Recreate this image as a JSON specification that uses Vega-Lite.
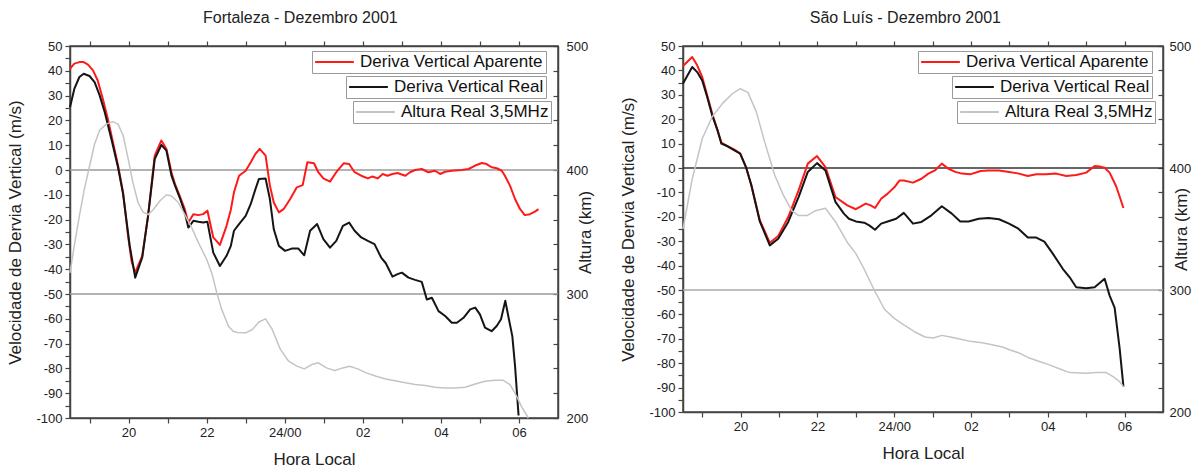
{
  "$schema": "https://vega.github.io/schema/vega-lite/v6.json",
  "padding": {"left": 6, "top": 9, "right": 0, "bottom": 0},
  "background": "white",
  "datasets": {
    "refs": [{"vel": 0}, {"vel": -50}],
    "fortAparente": [
      {"hora": 18.5, "vel": 40.8}, {"hora": 18.61, "vel": 42.9}, {"hora": 18.74, "vel": 43.5}, {"hora": 18.85, "vel": 43.5},
      {"hora": 18.96, "vel": 42.5}, {"hora": 19.09, "vel": 40.2}, {"hora": 19.21, "vel": 36.1}, {"hora": 19.34, "vel": 28.7},
      {"hora": 19.47, "vel": 20.6}, {"hora": 19.6, "vel": 11.2}, {"hora": 19.73, "vel": 1.8}, {"hora": 19.86, "vel": -9},
      {"hora": 19.99, "vel": -27}, {"hora": 20.08, "vel": -37}, {"hora": 20.17, "vel": -41.4}, {"hora": 20.35, "vel": -34.6},
      {"hora": 20.5, "vel": -18.5}, {"hora": 20.67, "vel": 5.8}, {"hora": 20.84, "vel": 11.9}, {"hora": 20.97, "vel": 8.5},
      {"hora": 21.1, "vel": -1}, {"hora": 21.19, "vel": -5.7}, {"hora": 21.31, "vel": -10.4}, {"hora": 21.44, "vel": -15.8},
      {"hora": 21.53, "vel": -21.2}, {"hora": 21.66, "vel": -17.8}, {"hora": 21.79, "vel": -18.2}, {"hora": 21.91, "vel": -17.8},
      {"hora": 22.02, "vel": -16.4}, {"hora": 22.17, "vel": -27.2}, {"hora": 22.34, "vel": -30.2}, {"hora": 22.51, "vel": -22.5},
      {"hora": 22.62, "vel": -16}, {"hora": 22.7, "vel": -9}, {"hora": 22.83, "vel": -2.3}, {"hora": 23.0, "vel": -0.3},
      {"hora": 23.13, "vel": 3.1}, {"hora": 23.25, "vel": 6.5}, {"hora": 23.36, "vel": 8.5}, {"hora": 23.51, "vel": 5.8},
      {"hora": 23.62, "vel": -6.3}, {"hora": 23.72, "vel": -13.1}, {"hora": 23.85, "vel": -17.1}, {"hora": 23.97, "vel": -15.8},
      {"hora": 24.14, "vel": -11.7}, {"hora": 24.31, "vel": -7}, {"hora": 24.46, "vel": -6.1}, {"hora": 24.58, "vel": 3.1},
      {"hora": 24.75, "vel": 2.7}, {"hora": 24.86, "vel": -0.9}, {"hora": 24.99, "vel": -3.4}, {"hora": 25.16, "vel": -4.7},
      {"hora": 25.32, "vel": -0.9}, {"hora": 25.51, "vel": 2.7}, {"hora": 25.65, "vel": 2.4}, {"hora": 25.79, "vel": -0.9},
      {"hora": 25.96, "vel": -2.3}, {"hora": 26.13, "vel": -3.4}, {"hora": 26.25, "vel": -2.6}, {"hora": 26.38, "vel": -3.4},
      {"hora": 26.51, "vel": -1.6}, {"hora": 26.63, "vel": -2.3}, {"hora": 26.76, "vel": -1.6}, {"hora": 26.89, "vel": -1.2},
      {"hora": 26.96, "vel": -1.6}, {"hora": 27.09, "vel": -2.3}, {"hora": 27.21, "vel": -0.9}, {"hora": 27.34, "vel": 0},
      {"hora": 27.51, "vel": 0.4}, {"hora": 27.68, "vel": -0.9}, {"hora": 27.85, "vel": -0.3}, {"hora": 27.98, "vel": -1.6},
      {"hora": 28.11, "vel": -0.7}, {"hora": 28.28, "vel": -0.3}, {"hora": 28.53, "vel": 0}, {"hora": 28.71, "vel": 0.4},
      {"hora": 28.88, "vel": 1.8}, {"hora": 29.05, "vel": 2.8}, {"hora": 29.17, "vel": 2.4}, {"hora": 29.3, "vel": 1.1},
      {"hora": 29.43, "vel": 0.7}, {"hora": 29.56, "vel": -0.3}, {"hora": 29.64, "vel": -2.3}, {"hora": 29.77, "vel": -6.3},
      {"hora": 29.9, "vel": -11.7}, {"hora": 30.03, "vel": -15.8}, {"hora": 30.15, "vel": -18.2}, {"hora": 30.28, "vel": -17.8},
      {"hora": 30.41, "vel": -16.8}, {"hora": 30.5, "vel": -15.8}
    ],
    "fortReal": [
      {"hora": 18.5, "vel": 25.3}, {"hora": 18.61, "vel": 32.7}, {"hora": 18.74, "vel": 37.5}, {"hora": 18.85, "vel": 38.8},
      {"hora": 19.0, "vel": 37.9}, {"hora": 19.13, "vel": 35.4}, {"hora": 19.26, "vel": 30.1}, {"hora": 19.39, "vel": 23.3},
      {"hora": 19.56, "vel": 12.5}, {"hora": 19.73, "vel": 1.1}, {"hora": 19.86, "vel": -9.7}, {"hora": 20.03, "vel": -30.6},
      {"hora": 20.17, "vel": -43.4}, {"hora": 20.35, "vel": -35.3}, {"hora": 20.5, "vel": -18.5}, {"hora": 20.67, "vel": 4.4},
      {"hora": 20.84, "vel": 10.1}, {"hora": 20.97, "vel": 7.8}, {"hora": 21.1, "vel": -2.3}, {"hora": 21.19, "vel": -6.3},
      {"hora": 21.31, "vel": -11.1}, {"hora": 21.44, "vel": -17.1}, {"hora": 21.53, "vel": -23.2}, {"hora": 21.66, "vel": -20.5},
      {"hora": 21.79, "vel": -20.9}, {"hora": 21.91, "vel": -21.2}, {"hora": 22.02, "vel": -20.9}, {"hora": 22.17, "vel": -33.3},
      {"hora": 22.34, "vel": -38.7}, {"hora": 22.51, "vel": -34.6}, {"hora": 22.62, "vel": -30.6}, {"hora": 22.7, "vel": -24.5},
      {"hora": 22.83, "vel": -21.8}, {"hora": 23.0, "vel": -18.5}, {"hora": 23.13, "vel": -13.7}, {"hora": 23.25, "vel": -7.7},
      {"hora": 23.34, "vel": -3.6}, {"hora": 23.51, "vel": -3.4}, {"hora": 23.62, "vel": -11.7}, {"hora": 23.72, "vel": -23.9},
      {"hora": 23.85, "vel": -30.6}, {"hora": 24.01, "vel": -32.6}, {"hora": 24.18, "vel": -31.7}, {"hora": 24.35, "vel": -31.7},
      {"hora": 24.5, "vel": -34.4}, {"hora": 24.65, "vel": -24.5}, {"hora": 24.83, "vel": -21.8}, {"hora": 24.99, "vel": -27.9},
      {"hora": 25.16, "vel": -31.3}, {"hora": 25.32, "vel": -28.6}, {"hora": 25.49, "vel": -22.5}, {"hora": 25.65, "vel": -21.2},
      {"hora": 25.79, "vel": -24.5}, {"hora": 25.96, "vel": -27.2}, {"hora": 26.13, "vel": -28.6}, {"hora": 26.3, "vel": -29.9},
      {"hora": 26.47, "vel": -35.3}, {"hora": 26.59, "vel": -37.6}, {"hora": 26.76, "vel": -43}, {"hora": 26.89, "vel": -42},
      {"hora": 27.0, "vel": -41.4}, {"hora": 27.17, "vel": -43.4}, {"hora": 27.34, "vel": -44.3}, {"hora": 27.51, "vel": -45.1},
      {"hora": 27.64, "vel": -52.2}, {"hora": 27.77, "vel": -51.5}, {"hora": 27.94, "vel": -56.9}, {"hora": 28.11, "vel": -58.9},
      {"hora": 28.28, "vel": -61.6}, {"hora": 28.41, "vel": -61.6}, {"hora": 28.58, "vel": -59.6}, {"hora": 28.75, "vel": -56.2},
      {"hora": 28.88, "vel": -55.5}, {"hora": 29.0, "vel": -58.2}, {"hora": 29.13, "vel": -63.6}, {"hora": 29.3, "vel": -65},
      {"hora": 29.43, "vel": -62.9}, {"hora": 29.54, "vel": -60.2}, {"hora": 29.65, "vel": -52.7}, {"hora": 29.74, "vel": -60},
      {"hora": 29.83, "vel": -67}, {"hora": 29.9, "vel": -79.1}, {"hora": 29.99, "vel": -99}
    ],
    "fortAltura": [
      {"hora": 18.5, "alt": 317}, {"hora": 18.61, "alt": 339}, {"hora": 18.74, "alt": 363}, {"hora": 18.87, "alt": 385},
      {"hora": 19.0, "alt": 403}, {"hora": 19.13, "alt": 421}, {"hora": 19.26, "alt": 432}, {"hora": 19.43, "alt": 437},
      {"hora": 19.6, "alt": 439}, {"hora": 19.73, "alt": 437}, {"hora": 19.86, "alt": 428}, {"hora": 19.99, "alt": 409},
      {"hora": 20.11, "alt": 390}, {"hora": 20.24, "alt": 374}, {"hora": 20.37, "alt": 366}, {"hora": 20.5, "alt": 364},
      {"hora": 20.63, "alt": 368}, {"hora": 20.8, "alt": 375}, {"hora": 20.97, "alt": 380}, {"hora": 21.1, "alt": 379},
      {"hora": 21.27, "alt": 374}, {"hora": 21.44, "alt": 364}, {"hora": 21.61, "alt": 354}, {"hora": 21.78, "alt": 342},
      {"hora": 22.0, "alt": 328}, {"hora": 22.13, "alt": 317}, {"hora": 22.26, "alt": 301}, {"hora": 22.38, "alt": 288},
      {"hora": 22.56, "alt": 274}, {"hora": 22.68, "alt": 270}, {"hora": 22.79, "alt": 269}, {"hora": 23.0, "alt": 268.7},
      {"hora": 23.17, "alt": 271.4}, {"hora": 23.34, "alt": 277.4}, {"hora": 23.51, "alt": 280}, {"hora": 23.68, "alt": 271.4},
      {"hora": 23.89, "alt": 255.3}, {"hora": 24.1, "alt": 245.8}, {"hora": 24.31, "alt": 241.8}, {"hora": 24.5, "alt": 239.6},
      {"hora": 24.69, "alt": 243.1}, {"hora": 24.86, "alt": 244.5}, {"hora": 25.07, "alt": 240.4}, {"hora": 25.28, "alt": 238.3},
      {"hora": 25.49, "alt": 240.4}, {"hora": 25.66, "alt": 241.8}, {"hora": 25.87, "alt": 239.6}, {"hora": 26.09, "alt": 236.4},
      {"hora": 26.34, "alt": 233.7}, {"hora": 26.59, "alt": 231.5}, {"hora": 26.89, "alt": 229.7}, {"hora": 27.09, "alt": 228.4},
      {"hora": 27.34, "alt": 227}, {"hora": 27.6, "alt": 226.2}, {"hora": 27.85, "alt": 224.8}, {"hora": 28.11, "alt": 224.2},
      {"hora": 28.36, "alt": 224.2}, {"hora": 28.62, "alt": 224.8}, {"hora": 28.88, "alt": 227.4}, {"hora": 29.13, "alt": 229.6},
      {"hora": 29.39, "alt": 230.4}, {"hora": 29.6, "alt": 230.4}, {"hora": 29.77, "alt": 227}, {"hora": 29.9, "alt": 220},
      {"hora": 30.07, "alt": 209}, {"hora": 30.24, "alt": 200}
    ],
    "slAparente": [
      {"hora": 18.5, "vel": 41.8}, {"hora": 18.74, "vel": 45.5}, {"hora": 18.87, "vel": 42.1}, {"hora": 19.0, "vel": 37.3},
      {"hora": 19.13, "vel": 29.8}, {"hora": 19.26, "vel": 22.3}, {"hora": 19.4, "vel": 15.4}, {"hora": 19.5, "vel": 10.4},
      {"hora": 19.66, "vel": 9.0}, {"hora": 19.84, "vel": 7.5}, {"hora": 19.99, "vel": 5.9}, {"hora": 20.14, "vel": 0.4},
      {"hora": 20.28, "vel": -7.1}, {"hora": 20.5, "vel": -21.4}, {"hora": 20.76, "vel": -30.6}, {"hora": 20.98, "vel": -27.9},
      {"hora": 21.24, "vel": -20.1}, {"hora": 21.51, "vel": -9.2}, {"hora": 21.75, "vel": 1.8}, {"hora": 21.99, "vel": 4.9},
      {"hora": 22.21, "vel": 0.4}, {"hora": 22.47, "vel": -11.9}, {"hora": 22.78, "vel": -15.3}, {"hora": 23.0, "vel": -16.9},
      {"hora": 23.13, "vel": -15.7}, {"hora": 23.26, "vel": -14.6}, {"hora": 23.39, "vel": -15.3}, {"hora": 23.5, "vel": -16.4},
      {"hora": 23.66, "vel": -12.6}, {"hora": 23.83, "vel": -10.5}, {"hora": 24.01, "vel": -7.8}, {"hora": 24.14, "vel": -5.1},
      {"hora": 24.25, "vel": -5.1}, {"hora": 24.49, "vel": -6.0}, {"hora": 24.71, "vel": -4.4}, {"hora": 24.89, "vel": -2.3},
      {"hora": 25.06, "vel": -1}, {"hora": 25.24, "vel": 1.8}, {"hora": 25.41, "vel": -0.3}, {"hora": 25.59, "vel": -1.6},
      {"hora": 25.76, "vel": -2.3}, {"hora": 25.98, "vel": -2.6}, {"hora": 26.25, "vel": -1.2}, {"hora": 26.46, "vel": -1},
      {"hora": 26.73, "vel": -1}, {"hora": 26.99, "vel": -1.6}, {"hora": 27.22, "vel": -2.2}, {"hora": 27.48, "vel": -3.3},
      {"hora": 27.7, "vel": -2.6}, {"hora": 27.96, "vel": -2.6}, {"hora": 28.22, "vel": -2.3}, {"hora": 28.48, "vel": -3.3},
      {"hora": 28.74, "vel": -2.9}, {"hora": 29.0, "vel": -1.9}, {"hora": 29.22, "vel": 0.8}, {"hora": 29.35, "vel": 0.6},
      {"hora": 29.48, "vel": 0.1}, {"hora": 29.61, "vel": -1.9}, {"hora": 29.78, "vel": -7.5}, {"hora": 29.97, "vel": -16.4}
    ],
    "slReal": [
      {"hora": 18.5, "vel": 34.6}, {"hora": 18.74, "vel": 41.4}, {"hora": 18.87, "vel": 39.3}, {"hora": 19.0, "vel": 35.9},
      {"hora": 19.13, "vel": 29.1}, {"hora": 19.26, "vel": 21.6}, {"hora": 19.4, "vel": 15.4}, {"hora": 19.5, "vel": 10},
      {"hora": 19.66, "vel": 8.9}, {"hora": 19.84, "vel": 7.2}, {"hora": 19.99, "vel": 5.9}, {"hora": 20.14, "vel": 0.4},
      {"hora": 20.28, "vel": -7.1}, {"hora": 20.5, "vel": -21.9}, {"hora": 20.76, "vel": -31.7}, {"hora": 20.98, "vel": -29},
      {"hora": 21.24, "vel": -22.1}, {"hora": 21.51, "vel": -11.9}, {"hora": 21.75, "vel": -1.6}, {"hora": 21.99, "vel": 2.0},
      {"hora": 22.21, "vel": -1}, {"hora": 22.47, "vel": -13.9}, {"hora": 22.69, "vel": -18.7}, {"hora": 22.82, "vel": -20.8},
      {"hora": 23.0, "vel": -21.9}, {"hora": 23.22, "vel": -22.4}, {"hora": 23.35, "vel": -23.5}, {"hora": 23.5, "vel": -25.3},
      {"hora": 23.66, "vel": -22.8}, {"hora": 23.83, "vel": -21.9}, {"hora": 24.05, "vel": -20.8}, {"hora": 24.25, "vel": -18.4},
      {"hora": 24.49, "vel": -22.8}, {"hora": 24.71, "vel": -22.1}, {"hora": 24.97, "vel": -19.4}, {"hora": 25.24, "vel": -15.7},
      {"hora": 25.5, "vel": -18.7}, {"hora": 25.72, "vel": -21.9}, {"hora": 25.94, "vel": -21.9}, {"hora": 26.2, "vel": -20.8},
      {"hora": 26.46, "vel": -20.5}, {"hora": 26.73, "vel": -21}, {"hora": 26.99, "vel": -22.8}, {"hora": 27.22, "vel": -24.7},
      {"hora": 27.48, "vel": -28.5}, {"hora": 27.7, "vel": -28.5}, {"hora": 27.91, "vel": -30.2}, {"hora": 28.13, "vel": -35.1},
      {"hora": 28.39, "vel": -41.3}, {"hora": 28.57, "vel": -44.8}, {"hora": 28.74, "vel": -48.9}, {"hora": 29.0, "vel": -49.3},
      {"hora": 29.22, "vel": -48.9}, {"hora": 29.48, "vel": -45.4}, {"hora": 29.61, "vel": -52.3}, {"hora": 29.74, "vel": -57.2},
      {"hora": 29.87, "vel": -73.8}, {"hora": 29.97, "vel": -89.6}
    ],
    "slAltura": [
      {"hora": 18.5, "alt": 350}, {"hora": 18.74, "alt": 391}, {"hora": 19.0, "alt": 424}, {"hora": 19.26, "alt": 442},
      {"hora": 19.53, "alt": 453}, {"hora": 19.79, "alt": 461}, {"hora": 19.99, "alt": 465}, {"hora": 20.19, "alt": 462},
      {"hora": 20.41, "alt": 446}, {"hora": 20.63, "alt": 421}, {"hora": 20.89, "alt": 394}, {"hora": 21.11, "alt": 378},
      {"hora": 21.33, "alt": 365}, {"hora": 21.51, "alt": 361}, {"hora": 21.73, "alt": 361}, {"hora": 21.95, "alt": 365},
      {"hora": 22.21, "alt": 367}, {"hora": 22.47, "alt": 356}, {"hora": 22.78, "alt": 339}, {"hora": 23.0, "alt": 330},
      {"hora": 23.22, "alt": 317}, {"hora": 23.48, "alt": 300}, {"hora": 23.75, "alt": 284}, {"hora": 24.01, "alt": 276.5},
      {"hora": 24.27, "alt": 271}, {"hora": 24.54, "alt": 265.6}, {"hora": 24.8, "alt": 261.5}, {"hora": 25.02, "alt": 260.7},
      {"hora": 25.24, "alt": 262.8}, {"hora": 25.46, "alt": 261.5}, {"hora": 25.68, "alt": 260.1}, {"hora": 25.98, "alt": 257.9},
      {"hora": 26.29, "alt": 256.8}, {"hora": 26.55, "alt": 255.2}, {"hora": 26.82, "alt": 253.3}, {"hora": 27.0, "alt": 251},
      {"hora": 27.26, "alt": 248.3}, {"hora": 27.52, "alt": 244.2}, {"hora": 27.78, "alt": 241.4}, {"hora": 28.04, "alt": 238.6},
      {"hora": 28.3, "alt": 235.4}, {"hora": 28.57, "alt": 232.3}, {"hora": 29.0, "alt": 231.8}, {"hora": 29.26, "alt": 232.3},
      {"hora": 29.52, "alt": 232.3}, {"hora": 29.7, "alt": 229}, {"hora": 29.87, "alt": 225}, {"hora": 29.97, "alt": 220.7}
    ]
  },
  "spacing": 24,
  "hconcat": [
    {
      "title": "Fortaleza - Dezembro 2001",
      "width": 488,
      "height": 372,
      "layer": [
        {
          "data": {"name": "refs"},
          "mark": {"type": "rule", "color": "#9a9a9a", "strokeWidth": 1.3},
          "encoding": {
            "y": {"field": "vel", "type": "quantitative", "scale": {"domain": [-100, 50], "nice": false, "zero": false},
                  "axis": {"title": "Velocidade de Dervia Vertical (m/s)", "values": [-100,-95,-90,-85,-80,-75,-70,-65,-60,-55,-50,-45,-40,-35,-30,-25,-20,-15,-10,-5,0,5,10,15,20,25,30,35,40,45,50],
                           "labelExpr": "datum.value % 10 == 0 ? datum.value : ''"}}
          }
        },
        {
          "data": {"name": "fortAparente"},
          "mark": {"type": "line", "strokeWidth": 2, "strokeJoin": "round"},
          "encoding": {
            "x": {"field": "hora", "type": "quantitative", "scale": {"domain": [18.5, 31], "nice": false, "zero": false},
                  "axis": {"title": "Hora Local", "orient": "bottom", "values": [19,20,21,22,23,24,25,26,27,28,29,30],
                           "labelExpr": "datum.value % 2 ? '' : datum.value == 24 ? '24/00' : datum.value > 24 ? '0' + (datum.value - 24) : '' + datum.value"}},
            "y": {"field": "vel", "type": "quantitative", "scale": {"domain": [-100, 50], "nice": false, "zero": false}, "axis": null},
            "color": {"datum": "Deriva Vertical Aparente", "scale": {"range": ["#ff1a1a"]},
                      "legend": {"orient": "none", "legendX": 242, "legendY": 5}}
          }
        },
        {
          "data": {"name": "fortReal"},
          "mark": {"type": "line", "strokeWidth": 2, "strokeJoin": "round"},
          "encoding": {
            "x": {"field": "hora", "type": "quantitative", "scale": {"domain": [18.5, 31], "nice": false, "zero": false},
                  "axis": {"title": null, "orient": "top", "labels": false, "values": [19,20,21,22,23,24,25,26,27,28,29,30]}},
            "y": {"field": "vel", "type": "quantitative", "scale": {"domain": [-100, 50], "nice": false, "zero": false}, "axis": null},
            "color": {"datum": "Deriva Vertical Real", "scale": {"range": ["#151515"]},
                      "legend": {"orient": "none", "legendX": 276, "legendY": 30}}
          }
        },
        {
          "data": {"name": "fortAltura"},
          "mark": {"type": "line", "strokeWidth": 1.5, "strokeJoin": "round"},
          "encoding": {
            "x": {"field": "hora", "type": "quantitative", "scale": {"domain": [18.5, 31], "nice": false, "zero": false}, "axis": null},
            "y": {"field": "alt", "type": "quantitative", "scale": {"domain": [200, 500], "nice": false, "zero": false},
                  "axis": {"title": "Altura (km)", "orient": "right", "titleAngle": -90, "titlePadding": 7, "tickSize": -5, "labelPadding": 13,
                           "values": [200,220,240,260,280,300,320,340,360,380,400,420,440,460,480,500],
                           "labelExpr": "datum.value % 100 == 0 ? datum.value : ''"}},
            "color": {"datum": "Altura Real 3,5MHz", "scale": {"range": ["#c4c4c4"]},
                      "legend": {"orient": "none", "legendX": 283, "legendY": 55}}
          }
        }
      ],
      "resolve": {"scale": {"y": "independent", "color": "independent"}, "axis": {"x": "independent", "y": "independent"}}
    },
    {
      "title": "São Luís - Dezembro 2001",
      "width": 480,
      "height": 366,
      "layer": [
        {
          "data": {"name": "refs"},
          "transform": [{"filter": "datum.vel == -50"}],
          "mark": {"type": "rule", "color": "#a8a8a8", "strokeWidth": 1.3},
          "encoding": {
            "y": {"field": "vel", "type": "quantitative", "scale": {"domain": [-100, 50], "nice": false, "zero": false},
                  "axis": {"title": "Velocidade de Dervia Vertical (m/s)", "values": [-100,-95,-90,-85,-80,-75,-70,-65,-60,-55,-50,-45,-40,-35,-30,-25,-20,-15,-10,-5,0,5,10,15,20,25,30,35,40,45,50],
                           "labelExpr": "datum.value % 10 == 0 ? datum.value : ''"}}
          }
        },
        {
          "data": {"name": "refs"},
          "transform": [{"filter": "datum.vel == 0"}],
          "mark": {"type": "rule", "color": "#333333", "strokeWidth": 1.3},
          "encoding": {
            "y": {"field": "vel", "type": "quantitative", "scale": {"domain": [-100, 50], "nice": false, "zero": false}, "axis": null}
          }
        },
        {
          "data": {"name": "slAparente"},
          "mark": {"type": "line", "strokeWidth": 2, "strokeJoin": "round"},
          "encoding": {
            "x": {"field": "hora", "type": "quantitative", "scale": {"domain": [18.5, 31], "nice": false, "zero": false},
                  "axis": {"title": "Hora Local", "orient": "bottom", "values": [19,20,21,22,23,24,25,26,27,28,29,30],
                           "labelExpr": "datum.value % 2 ? '' : datum.value == 24 ? '24/00' : datum.value > 24 ? '0' + (datum.value - 24) : '' + datum.value"}},
            "y": {"field": "vel", "type": "quantitative", "scale": {"domain": [-100, 50], "nice": false, "zero": false}, "axis": null},
            "color": {"datum": "Deriva Vertical Aparente", "scale": {"range": ["#ff1a1a"]},
                      "legend": {"orient": "none", "legendX": 235, "legendY": 5}}
          }
        },
        {
          "data": {"name": "slReal"},
          "mark": {"type": "line", "strokeWidth": 2, "strokeJoin": "round"},
          "encoding": {
            "x": {"field": "hora", "type": "quantitative", "scale": {"domain": [18.5, 31], "nice": false, "zero": false},
                  "axis": {"title": null, "orient": "top", "labels": false, "values": [19,20,21,22,23,24,25,26,27,28,29,30]}},
            "y": {"field": "vel", "type": "quantitative", "scale": {"domain": [-100, 50], "nice": false, "zero": false}, "axis": null},
            "color": {"datum": "Deriva Vertical Real", "scale": {"range": ["#151515"]},
                      "legend": {"orient": "none", "legendX": 269, "legendY": 30}}
          }
        },
        {
          "data": {"name": "slAltura"},
          "mark": {"type": "line", "strokeWidth": 1.5, "strokeJoin": "round"},
          "encoding": {
            "x": {"field": "hora", "type": "quantitative", "scale": {"domain": [18.5, 31], "nice": false, "zero": false}, "axis": null},
            "y": {"field": "alt", "type": "quantitative", "scale": {"domain": [200, 500], "nice": false, "zero": false},
                  "axis": {"title": "Altura (km)", "orient": "right", "titleAngle": -90, "titlePadding": 0, "tickSize": -5, "labelPadding": 11,
                           "values": [200,220,240,260,280,300,320,340,360,380,400,420,440,460,480,500],
                           "labelExpr": "datum.value % 100 == 0 ? datum.value : ''"}},
            "color": {"datum": "Altura Real 3,5MHz", "scale": {"range": ["#c4c4c4"]},
                      "legend": {"orient": "none", "legendX": 274, "legendY": 55}}
          }
        }
      ],
      "resolve": {"scale": {"y": "independent", "color": "independent"}, "axis": {"x": "independent", "y": "independent"}}
    }
  ],
  "config": {
    "font": "Liberation Sans",
    "view": {"stroke": "#444444", "strokeWidth": 1.5},
    "title": {"fontSize": 16, "fontWeight": "normal", "color": "#222222", "offset": 14, "anchor": "middle", "frame": "bounds"},
    "axis": {
      "grid": false,
      "labelFont": "Liberation Sans",
      "labelFontSize": 13,
      "labelColor": "#222222",
      "labelPadding": 3,
      "titleFont": "Liberation Sans",
      "titleFontSize": 17,
      "titleFontWeight": "normal",
      "titleColor": "#222222",
      "domainColor": "#444444",
      "domainWidth": 1.5,
      "tickColor": "#444444",
      "tickWidth": 1.2,
      "tickSize": 5
    },
    "axisX": {"labelFlush": false, "titlePadding": 12},
    "axisY": {"titlePadding": 11},
    "legend": {
      "title": null,
      "symbolType": "stroke",
      "symbolSize": 1500,
      "symbolStrokeWidth": 2,
      "clipHeight": 18,
      "labelFont": "Liberation Sans",
      "labelFontSize": 17,
      "labelLimit": 400,
      "labelColor": "#111111",
      "labelOffset": 5,
      "strokeColor": "#9a9a9a",
      "padding": 2
    }
  }
}
